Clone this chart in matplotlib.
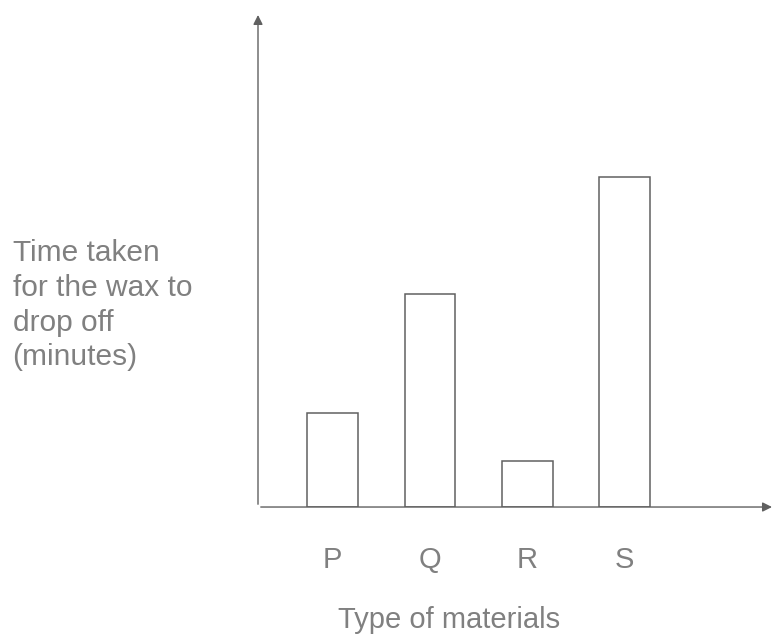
import matplotlib.pyplot as plt

materials = ["P", "Q", "R", "S"]
time_taken = [9.4, 21.3, 4.6, 33.0]   # no scale on the chart, read as relative heights

plt.rcParams["font.family"] = ["Liberation Sans", "DejaVu Sans"]
text_col = "#808080"
line_col = "#606060"

fig = plt.figure(figsize=(7.83, 6.36), dpi=100)
ax = fig.add_axes([0.3295, 0.2028, 0.660, 0.778])

x = range(len(materials))
ax.bar(x, time_taken, width=0.52, facecolor="white", edgecolor=line_col, linewidth=1.1)

ax.set_xlim(-0.764, 4.54)
ax.set_ylim(0, 49.5)
for side in ["top", "right", "left", "bottom"]:
    ax.spines[side].set_visible(False)

# axes drawn as arrows
ax.annotate("", xy=(0, 1), xytext=(0, 0), xycoords="axes fraction",
            arrowprops=dict(arrowstyle="-|>", color=line_col, lw=1.0, mutation_scale=14))
ax.annotate("", xy=(1, 0), xytext=(0, 0), xycoords="axes fraction",
            arrowprops=dict(arrowstyle="-|>", color=line_col, lw=1.0, mutation_scale=14))

ax.set_xticks(list(x))
ax.set_xticklabels(materials, color=text_col, fontsize=21)
ax.tick_params(axis="x", length=0, pad=28)
ax.set_yticks([])

ax.set_xlabel("Type of materials", color=text_col, fontsize=21)
ax.xaxis.label.set_va("baseline")
ax.xaxis.set_label_coords(0.37, -0.244)

fig.text(0.016, 0.52, "Time taken\nfor the wax to\ndrop off\n(minutes)",
         color=text_col, fontsize=21.5, ha="left", va="center", linespacing=1.3)

fig.savefig("out.png", dpi=100)
